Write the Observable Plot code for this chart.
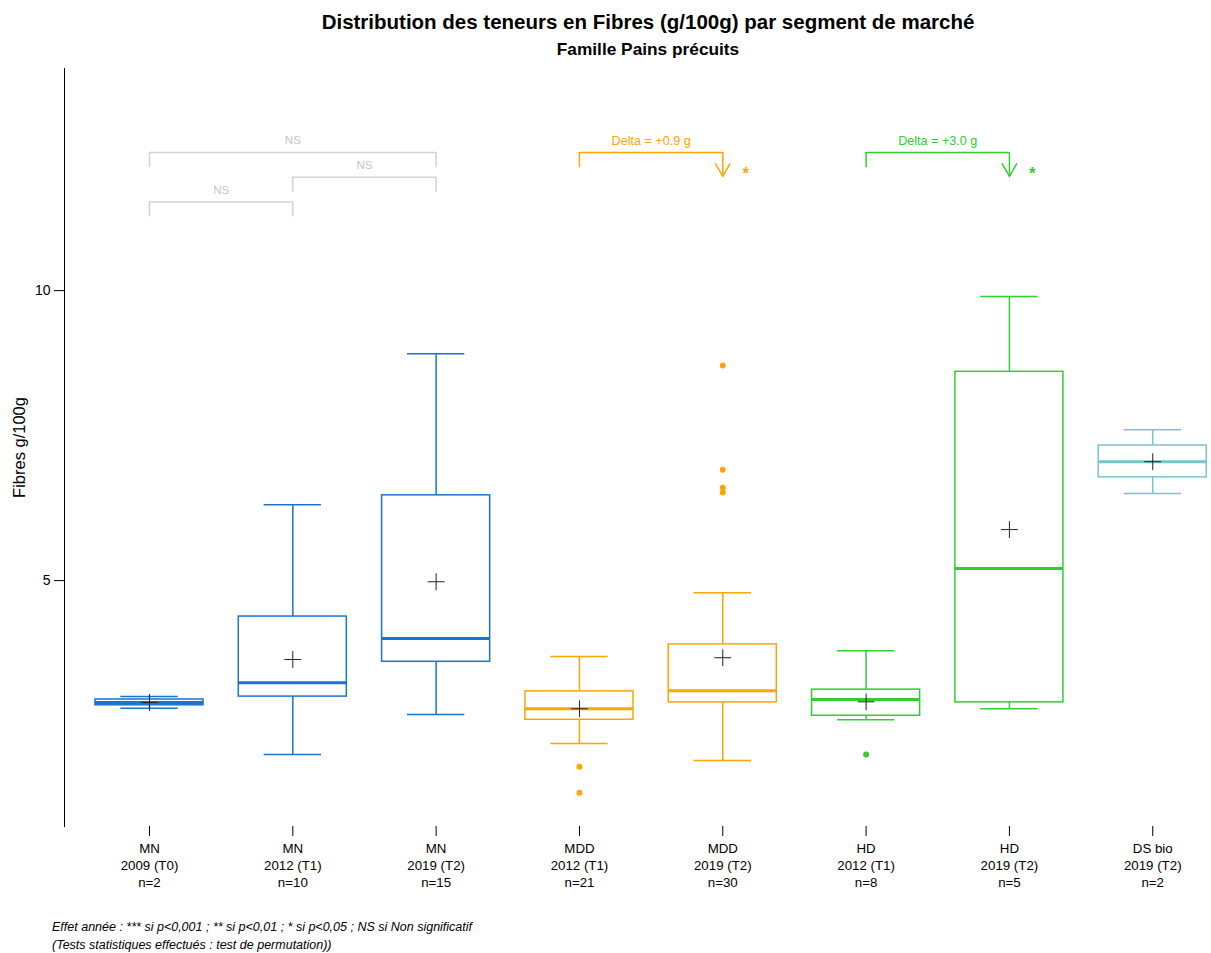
<!DOCTYPE html>
<html><head><meta charset="utf-8">
<script src="https://cdn.jsdelivr.net/npm/d3@7"></script>
<script src="https://cdn.jsdelivr.net/npm/@observablehq/plot@0.6"></script>
<style>
body{margin:0;background:#fff;font-family:"Liberation Sans",Arial,sans-serif;}
#wrap{position:relative;width:1211px;height:953px;overflow:hidden;}
#title{position:absolute;top:10px;left:148px;width:1000px;text-align:center;font-weight:bold;font-size:20.5px;line-height:24px;color:#000;}
#subtitle{position:absolute;top:39px;left:148px;width:1000px;text-align:center;font-weight:bold;font-size:17.3px;line-height:20px;color:#000;}
#chart{position:absolute;top:60px;left:0;}
#caption{position:absolute;top:918px;left:52px;font-style:italic;font-size:12.5px;line-height:18px;color:#000;}
</style></head>
<body><div id="wrap">
<div id="title">Distribution des teneurs en Fibres (g/100g) par segment de marché</div>
<div id="subtitle">Famille Pains précuits</div>
<div id="chart"></div>
<div id="caption">Effet année : *** si p&lt;0,001 ; ** si p&lt;0,01 ; * si p&lt;0,05 ; NS si Non significatif<br>(Tests statistiques effectués : test de permutation))</div>
</div>
<script>
// ---- data ----
const segments = ["MN", "MN", "MN", "MDD", "MDD", "HD", "HD", "DS bio"];
const years = ["2009 (T0)", "2012 (T1)", "2019 (T2)", "2012 (T1)", "2019 (T2)", "2012 (T1)", "2019 (T2)", "2019 (T2)"];
const counts = [2, 10, 15, 21, 30, 8, 5, 2];
const whiskerLow = [2.80, 2.00, 2.69, 2.19, 1.90, 2.60, 2.79, 6.50];
const q1s = [2.85, 3.00, 3.60, 2.60, 2.90, 2.67, 2.90, 6.78];
const medians = [2.90, 3.24, 4.00, 2.79, 3.10, 2.95, 5.21, 7.05];
const q3s = [2.95, 4.38, 6.47, 3.09, 3.90, 3.12, 8.60, 7.33];
const whiskerHigh = [3.00, 6.31, 8.91, 3.69, 4.79, 3.79, 9.90, 7.60];
const means = [2.90, 3.64, 4.98, 2.79, 3.67, 2.91, 5.88, 7.05];
const outlierGroup = [4, 4, 5, 5, 5, 5, 6];
const outlierValue = [1.79, 1.34, 8.71, 6.91, 6.60, 6.52, 2.00];
const segmentColors = {"MN": "#1874CD", "MDD": "#FFA500", "HD": "#32CD32", "DS bio": "#7AC5CD"};
const nsComparisons = [
  {from: 1, to: 3, row: 0, label: "NS"},
  {from: 2, to: 3, row: 1, label: "NS"},
  {from: 1, to: 2, row: 2, label: "NS"}
];
const deltaComparisons = [
  {from: 4, to: 5, row: 0, label: "Delta = +0.9 g", star: "*", seg: "MDD"},
  {from: 6, to: 7, row: 0, label: "Delta = +3.0 g", star: "*", seg: "HD"}
];
const yTicks = [5, 10];

// ---- derived table ----
const boxes = segments.map((seg, k) => ({
  i: k + 1, seg, year: years[k], n: counts[k],
  lo: whiskerLow[k], q1: q1s[k], med: medians[k], q3: q3s[k], hi: whiskerHigh[k], mean: means[k],
  color: segmentColors[seg]
}));
const outliers = outlierGroup.map((g, k) => ({i: g, value: outlierValue[k], color: segmentColors[segments[g - 1]]}));

const boxHalf = 0.377, capHalf = 0.2;
const topLevel = 12.38, rowStep = 0.425, leg = 0.26, arrowLen = 0.41;
const lvl = d => topLevel - d.row * rowStep;
const tip = d => lvl(d) - arrowLen;
const nsColor = "#D3D3D3";
const dColor = d => segmentColors[d.seg];
// open V arrowhead symbol, tip at the anchor point
const vHead = {draw(ctx) { ctx.moveTo(-7.5, -13); ctx.lineTo(0, 0); ctx.lineTo(7.5, -13); }};

const chart = Plot.plot({
  width: 1211,
  height: 850,
  marginLeft: 64,
  marginRight: 0,
  marginTop: 8,
  marginBottom: 84,
  style: {fontFamily: "'Liberation Sans', Arial, sans-serif", background: "#fff", color: "#000"},
  x: {type: "linear", domain: [0.407, 8.41]},
  y: {domain: [0.76, 13.83]},
  color: {type: "identity"},
  marks: [
    Plot.frame({anchor: "left", stroke: "#000", strokeWidth: 1}),
    // whiskers
    Plot.ruleX(boxes, {x: "i", y1: "q3", y2: "hi", stroke: "color", strokeWidth: 1.5}),
    Plot.ruleX(boxes, {x: "i", y1: "lo", y2: "q1", stroke: "color", strokeWidth: 1.5}),
    Plot.ruleY(boxes, {y: "hi", x1: d => d.i - capHalf, x2: d => d.i + capHalf, stroke: "color", strokeWidth: 1.5}),
    Plot.ruleY(boxes, {y: "lo", x1: d => d.i - capHalf, x2: d => d.i + capHalf, stroke: "color", strokeWidth: 1.5}),
    // boxes
    Plot.rect(boxes, {x1: d => d.i - boxHalf, x2: d => d.i + boxHalf, y1: "q1", y2: "q3", fill: "white", stroke: "color", strokeWidth: 1.5}),
    Plot.ruleY(boxes, {y: "med", x1: d => d.i - boxHalf, x2: d => d.i + boxHalf, stroke: "color", strokeWidth: 3}),
    // outliers
    Plot.dot(outliers, {x: "i", y: "value", r: 3, fill: "color", stroke: null}),
    // means
    Plot.dot(boxes, {x: "i", y: "mean", symbol: "plus", r: 5.5, stroke: "#222", strokeWidth: 1}),
    // NS brackets
    Plot.ruleY(nsComparisons, {y: lvl, x1: "from", x2: "to", stroke: nsColor, strokeWidth: 1.5}),
    Plot.ruleX(nsComparisons, {x: "from", y1: d => lvl(d) - leg, y2: lvl, stroke: nsColor, strokeWidth: 1.5}),
    Plot.ruleX(nsComparisons, {x: "to", y1: d => lvl(d) - leg, y2: lvl, stroke: nsColor, strokeWidth: 1.5}),
    Plot.text(nsComparisons, {x: d => (d.from + d.to) / 2, y: lvl, dy: -12, text: "label", fill: "#C4C4C4", fontSize: 11.5}),
    // Delta brackets
    Plot.ruleY(deltaComparisons, {y: lvl, x1: "from", x2: "to", stroke: dColor, strokeWidth: 1.5}),
    Plot.ruleX(deltaComparisons, {x: "from", y1: d => lvl(d) - leg, y2: lvl, stroke: dColor, strokeWidth: 1.5}),
    Plot.ruleX(deltaComparisons, {x: "to", y1: tip, y2: lvl, stroke: dColor, strokeWidth: 1.5}),
    Plot.dot(deltaComparisons, {x: "to", y: tip, symbol: vHead, r: 5, fill: "none", stroke: dColor, strokeWidth: 1.5}),
    Plot.text(deltaComparisons, {x: d => (d.from + d.to) / 2, y: lvl, dy: -12, text: "label", fill: dColor, fontSize: 12.6}),
    Plot.text(deltaComparisons, {x: "to", y: tip, dx: 23, dy: -3, text: "star", fill: dColor, fontSize: 17, fontWeight: "bold"}),
    // axes
    Plot.axisY({ticks: yTicks, tickSize: 10, tickPadding: 4, fontSize: 14, label: null}),
    Plot.text(["Fibres g/100g"], {text: d => d, frameAnchor: "left", textAnchor: "middle", rotate: -90, dx: -45, fontSize: 16.5}),
    Plot.axisX({
      ticks: boxes.map(d => d.i),
      tickFormat: i => { const b = boxes[i - 1]; return `${b.seg}\n${b.year}\nn=${b.n}`; },
      tickSize: 10, tickPadding: 5, fontSize: 13.3, lineHeight: 1.25, label: null
    })
  ]
});
document.getElementById("chart").appendChild(chart);
</script>
</body></html>
